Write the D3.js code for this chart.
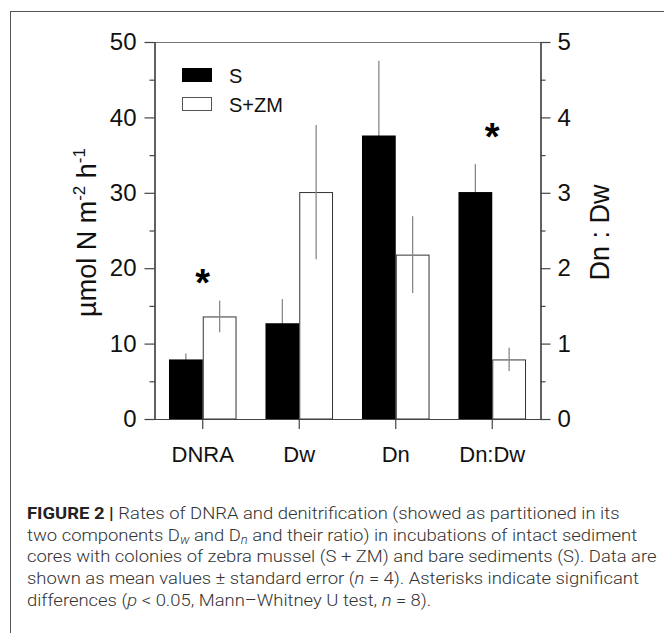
<!DOCTYPE html>
<html>
<head>
<meta charset="utf-8">
<script src="https://d3js.org/d3.v7.min.js"></script>
<style>
  body { margin: 0; background: #fff; }
  svg text { font-family: "Liberation Sans", Arial, sans-serif; }
</style>
</head>
<body>
<svg id="chart" width="664" height="633"></svg>
<script>
// data
var categories = ["DNRA", "Dw", "Dn", "Dn:Dw"];
var sMean  = [7.9, 12.7, 37.6, 3.01];   // last one is the Dn:Dw ratio (right axis)
var sErr   = [0.8, 3.2, 9.9, 0.37];
var zmMean = [13.6, 30.1, 21.8, 0.79];
var zmErr  = [2.1, 8.9, 5.1, 0.155];
var ratioCat = "Dn:Dw";
var starLevel = [19.1, null, null, 3.84];   // asterisk heights, in each category's units
var leftTicks = [0, 10, 20, 30, 40, 50];
var rightTicks = [0, 1, 2, 3, 4, 5];
var seriesNames = ["S", "S+ZM"];

var svg = d3.select("#chart");

var pLeft = 154.5, pRight = 540.5, pTop = 42, pBottom = 419;

var x = d3.scaleBand().domain(categories).range([pLeft, pRight])
    .paddingInner(0.3).paddingOuter(0.15);
var y = d3.scaleLinear().domain([0, 50]).range([pBottom, pTop]);
var yR = d3.scaleLinear().domain([0, 5]).range([pBottom, pTop]);

function scaleFor(cat) { return cat == ratioCat ? yR : y; }

// outer frame of the figure panel
svg.append("rect").attr("x", 10.5).attr("y", 11.5)
    .attr("width", 700).attr("height", 700)
    .attr("fill", "none").attr("stroke", "#555").attr("stroke-width", 1);

var rows = categories.map(function(c, i) {
    return {cat: c, s: sMean[i], se: sErr[i], z: zmMean[i], ze: zmErr[i], star: starLevel[i]};
});

var bw = x.bandwidth() / 2;

// error bars of the black bars go behind them
svg.append("g").selectAll("line").data(rows).enter().append("line")
    .attr("x1", function(d) { return x(d.cat) + bw / 2; })
    .attr("x2", function(d) { return x(d.cat) + bw / 2; })
    .attr("y1", function(d) { return scaleFor(d.cat)(d.s - d.se); })
    .attr("y2", function(d) { return scaleFor(d.cat)(d.s + d.se); })
    .attr("stroke", "#888").attr("stroke-width", 1.3);

svg.append("g").selectAll("rect").data(rows).enter().append("rect")
    .attr("x", function(d) { return x(d.cat); })
    .attr("width", bw)
    .attr("y", function(d) { return scaleFor(d.cat)(d.s); })
    .attr("height", function(d) { return pBottom - scaleFor(d.cat)(d.s); })
    .attr("fill", "#000");

svg.append("g").selectAll("rect").data(rows).enter().append("rect")
    .attr("x", function(d) { return x(d.cat) + bw + 0.5; })
    .attr("width", bw - 1)
    .attr("y", function(d) { return scaleFor(d.cat)(d.z) + 0.5; })
    .attr("height", function(d) { return pBottom - scaleFor(d.cat)(d.z) - 0.5; })
    .attr("fill", "#fff").attr("stroke", "#333").attr("stroke-width", 1);

svg.append("g").selectAll("line").data(rows).enter().append("line")
    .attr("x1", function(d) { return x(d.cat) + bw * 1.5; })
    .attr("x2", function(d) { return x(d.cat) + bw * 1.5; })
    .attr("y1", function(d) { return scaleFor(d.cat)(d.z - d.ze); })
    .attr("y2", function(d) { return scaleFor(d.cat)(d.z + d.ze); })
    .attr("stroke", "#888").attr("stroke-width", 1.3);

// significance stars (text baseline sits below the glyph centre)
svg.append("g").selectAll("text").data(rows.filter(function(d) { return d.star != null; }))
    .enter().append("text")
    .attr("x", function(d) { return x(d.cat) + bw; })
    .attr("y", function(d) { return scaleFor(d.cat)(d.star) + 21; })
    .attr("text-anchor", "middle")
    .style("font-size", "38px").style("font-weight", "bold")
    .text("*");

// top border of the plot box
svg.append("line").attr("x1", pLeft).attr("x2", pRight).attr("y1", pTop + 0.5).attr("y2", pTop + 0.5)
    .attr("stroke", "#777").attr("stroke-width", 1.2);

function styleAxis(g) {
    g.select(".domain").attr("stroke", "#444").attr("stroke-width", 1.2);
    g.selectAll(".tick line").attr("stroke", "#444").attr("stroke-width", 1.2);
    g.selectAll("text").style("font-size", "22px").attr("fill", "#111")
        .style("font-family", "'Liberation Sans', Arial, sans-serif");
}

var gl = svg.append("g").attr("transform", "translate(" + pLeft + ",0)")
    .call(d3.axisLeft(y).tickValues(leftTicks).tickSize(10).tickSizeOuter(0).tickPadding(8));
styleAxis(gl);
gl.selectAll("text").style("font-size", "24px");
var glm = svg.append("g").attr("transform", "translate(" + pLeft + ",0)")
    .call(d3.axisLeft(y).tickValues([5, 15, 25, 35, 45]).tickSize(5).tickFormat(""));
styleAxis(glm);

var gr = svg.append("g").attr("transform", "translate(" + pRight + ",0)")
    .call(d3.axisRight(yR).tickValues(rightTicks).tickSize(10).tickSizeOuter(0).tickPadding(7)
        .tickFormat(d3.format("d")));
styleAxis(gr);
gr.selectAll("text").style("font-size", "24px");
var grm = svg.append("g").attr("transform", "translate(" + pRight + ",0)")
    .call(d3.axisRight(yR).tickValues([0.5, 1.5, 2.5, 3.5, 4.5]).tickSize(5).tickFormat(""));
styleAxis(grm);

var gb = svg.append("g").attr("transform", "translate(0," + pBottom + ")")
    .call(d3.axisBottom(x).tickSize(10).tickSizeOuter(0).tickPadding(17));
styleAxis(gb);

// axis titles
var ylab = svg.append("text")
    .attr("transform", "translate(96," + ((pTop + pBottom) / 2 + 2) + ") rotate(-90)")
    .attr("text-anchor", "middle").style("font-size", "27px").attr("fill", "#111");
ylab.append("tspan").text("µmol N m");
ylab.append("tspan").attr("dy", -11).style("font-size", "17px").text("-2");
ylab.append("tspan").attr("dy", 11).text(" h");
ylab.append("tspan").attr("dy", -11).style("font-size", "17px").text("-1");

svg.append("text")
    .attr("transform", "translate(609," + ((pTop + pBottom) / 2 + 2) + ") rotate(-90)")
    .attr("text-anchor", "middle").style("font-size", "27px").attr("fill", "#111")
    .text("Dn : Dw");

// legend
var leg = svg.append("g").selectAll("g").data(seriesNames).enter().append("g")
    .attr("transform", function(d, i) { return "translate(182," + (68 + i * 29) + ")"; });
leg.append("rect").attr("x", 0.5).attr("y", 0.5).attr("width", 29).attr("height", 13)
    .attr("fill", function(d, i) { return i == 0 ? "#000" : "#fff"; })
    .attr("stroke", function(d, i) { return i == 0 ? "#000" : "#555"; });
leg.append("text").attr("x", 47).attr("y", 14.5)
    .style("font-size", "20px").attr("fill", "#111")
    .text(function(d) { return d; });

// caption
var captionLines = [
    [["FIGURE 2 | ", "b"], ["Rates of DNRA and denitrification (showed as partitioned in its", ""]],
    [["two components D", ""], ["w", "sub"], [" and D", ""], ["n", "sub"], [" and their ratio) in incubations of intact sediment", ""]],
    [["cores with colonies of zebra mussel (S + ZM) and bare sediments (S). Data are", ""]],
    [["shown as mean values \u00b1 standard error (", ""], ["n", "i"], [" = 4). Asterisks indicate significant", ""]],
    [["differences (", ""], ["p", "i"], [" < 0.05, Mann\u2013Whitney U test, ", ""], ["n", "i"], [" = 8).", ""]]
];

var cap = svg.append("g").attr("transform", "translate(27,0)");
captionLines.forEach(function(line, i) {
    var t = cap.append("text").attr("x", 0).attr("y", 519 + i * 21.7)
        .style("font-family", "Roboto, 'Liberation Sans', sans-serif")
        .style("font-weight", 300)
        .style("font-size", "17px").attr("fill", "#333");
    var shifted = false;
    line.forEach(function(seg) {
        var sp = t.append("tspan").text(seg[0]);
        if (shifted) { sp.attr("dy", -3); shifted = false; }
        if (seg[1] == "b") sp.style("font-weight", "bold").attr("fill", "#222");
        if (seg[1] == "i") sp.style("font-style", "italic");
        if (seg[1] == "sub") {
            sp.style("font-style", "italic").style("font-size", "12px").attr("dy", 3);
            shifted = true;
        }
    });
});
// squeeze the caption so the widest line spans like the original
var widest = 0;
cap.selectAll("text").each(function() { widest = Math.max(widest, this.getComputedTextLength()); });
cap.attr("transform", "translate(27,0) scale(" + (630 / widest) + ",1)");
</script>
</body>
</html>
